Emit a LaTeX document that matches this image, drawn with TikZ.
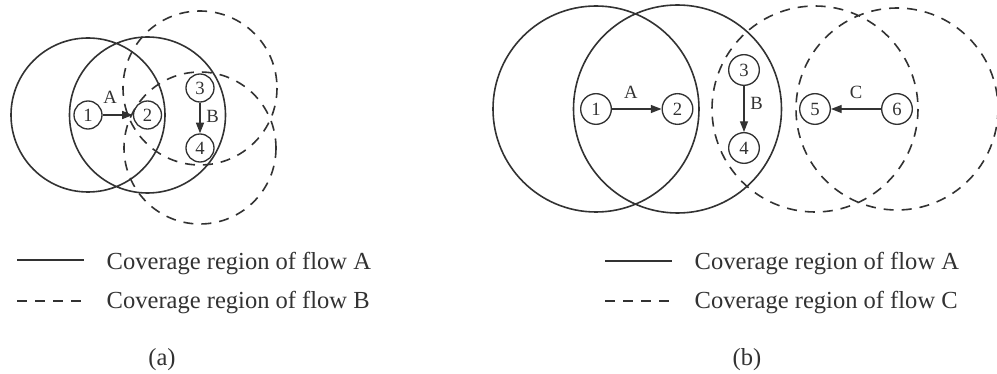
\documentclass[tikz,border=0pt]{standalone}
\usepackage{fontspec}
\setmainfont{Liberation Serif}
\usetikzlibrary{arrows.meta}
\definecolor{inkgray}{RGB}{50,50,50}
\begin{document}
\begin{tikzpicture}[x=0.75pt,y=-0.75pt,>={Triangle[length=8pt,width=6pt]},
    every node/.style={font=\fontsize{14}{16}\selectfont,text=inkgray},
    station/.style={draw=inkgray,circle,line width=1pt,inner sep=0pt,minimum size=21pt},
    widestation/.style={station,minimum size=23pt},
    flow/.style={->,draw=inkgray,line width=1pt},
    rangesolid/.style={draw=inkgray,line width=1.2pt},
    rangedashed/.style={rangesolid,dash pattern=on 7.5pt off 6pt},
    legendtext/.style={font=\fontsize{18.4}{22}\selectfont,anchor=base west}]
  \useasboundingbox (0,0) rectangle (997,374);
  \node[station] (a1) at (88,115) {1};
  \node[station] (a2) at (147.5,115) {2};
  \node[station] (a3) at (200,88) {3};
  \node[station] (a4) at (200,148) {4};
  \draw[flow] (a1) -- node[above=5pt,pos=0.25]{A} (a2);
  \draw[flow] (a3) -- node[right=1pt,pos=0.45]{B} (a4);
  \draw[rangesolid] (a1) circle[radius=77] (a2) circle[radius=78];
  \draw[rangedashed] (a3) circle[radius=77] (a4) circle[radius=76];
  \node[widestation] (b1) at (596,109) {1};
  \node[widestation] (b2) at (677.5,109) {2};
  \node[widestation] (b3) at (744,70) {3};
  \node[widestation] (b4) at (744,148) {4};
  \node[widestation] (b5) at (815,109) {5};
  \node[widestation] (b6) at (897,109) {6};
  \draw[flow] (b1) -- node[above=4pt,pos=0.38]{A} (b2);
  \draw[flow] (b3) -- node[right=1pt,pos=0.38]{B} (b4);
  \draw[flow] (b6) -- node[above=4pt,pos=0.5]{C} (b5);
  \draw[rangesolid] (b1) circle[radius=103] (b2) circle[radius=104];
  \draw[rangedashed] (b5) circle[radius=103] (b6) circle[radius=101];
  \coordinate (la1) at (17,260); \coordinate (la2) at (84,260);
  \coordinate (lb1) at (17,301); \coordinate (lb2) at (84,301);
  \draw[rangesolid] (la1) -- (la2);
  \draw[rangedashed] (lb1) -- (lb2);
  \node[legendtext] (ta) at (102,270) {Coverage region of flow A};
  \node[legendtext] (tb) at (102,309) {Coverage region of flow B};
  \node[legendtext,anchor=base] (capa) at (162,365) {(a)};
  \coordinate (lc1) at (605,261); \coordinate (lc2) at (672,261);
  \coordinate (ld1) at (605,301); \coordinate (ld2) at (672,301);
  \draw[rangesolid] (lc1) -- (lc2);
  \draw[rangedashed] (ld1) -- (ld2);
  \node[legendtext] (tc) at (690,270) {Coverage region of flow A};
  \node[legendtext] (td) at (690,309) {Coverage region of flow C};
  \node[legendtext,anchor=base] (capb) at (747,365) {(b)};
\end{tikzpicture}
\end{document}
